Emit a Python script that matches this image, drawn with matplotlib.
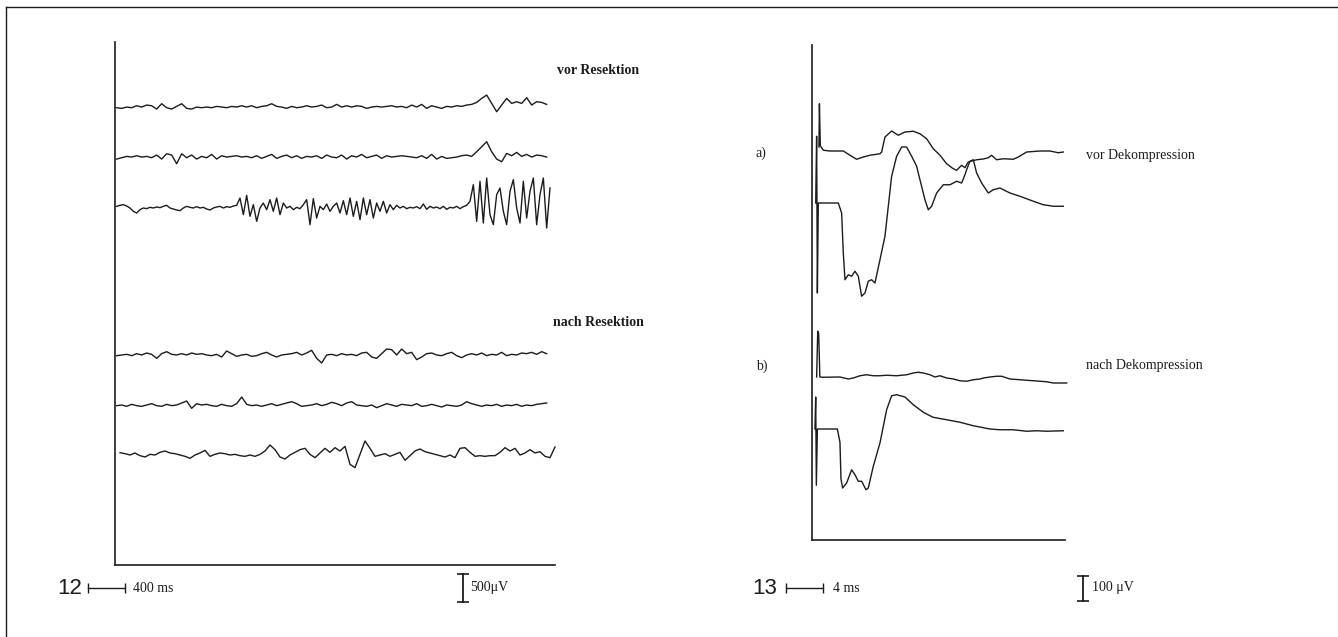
import matplotlib

matplotlib.use("Agg")

import matplotlib.pyplot as plt
import matplotlib.transforms as mtransforms
import numpy as np

W, H = 1338, 637
INK = "#1c1c1c"

# ---- Fig. 12: EEG, six channels (uV), evenly sampled between start/end (ms)
eeg_vor_1 = [-18, -30, -6, -18, 18, -6, 30, 18, -42, 54, -18, -42, 6, 54, -30, -42, -6, -18,
             -6, -18, 6, -6, -18, 6, -6, 18, -6, 18, -18, 6, 18, 54, 6, -6, -30, 6, -18, -6,
             18, -6, 6, 30, -18, -6, 42, -6, 18, -6, 18, 6, -30, -6, 6, -6, 6, 18, -6, 6, -18,
             30, -6, 42, -30, 18, -6, -30, 6, -6, 18, 6, 30, 42, 78, 150, 210, 60, -90, 30, 150,
             60, 90, 60, 162, 30, 90, 78, 42]
eeg_vor_2 = [-42, -18, 6, -6, 18, -6, 6, -18, 30, -42, 54, 30, -126, 54, -18, 30, -42, 6, -18,
             42, -42, 18, -6, 6, 18, -6, 6, -18, 18, -30, 6, 42, -30, 6, 30, -18, 18, -30, 6,
             -6, 18, -30, 30, -6, -18, 30, -42, 18, -6, 42, -18, 6, 30, -30, 18, -6, 6, 18, 6,
             -6, -18, 18, -30, 42, -42, 6, -30, -18, -6, 18, 30, 6, 90, 180, 270, 90, -42, -90,
             60, 18, 78, 6, 42, -6, 30, 18, -6]
eeg_vor_3 = [30, 48, 60, 36, 0, -60, -90, -30, 0, -12, 12, 0, 18, 6, 30, 48, 0, -18, -36, -48,
             0, 30, 12, 0, 24, 0, 12, -18, -36, 0, 18, 30, 0, 24, 12, 36, 48,
             180, -120, 228, -150, 60, -240, 0, 90, -30, 150, -60, 180, -120, 90, 0, 30, -30,
             12, -12, 60, 150, -300, 168, -180, 30, -30, 72, -60, 30, 90, -90, 132, -120, 180,
             -150, 120, -210, 180, -120, 150, -180, 90, -60, 120, -90, 60, -30, 48, 0, 30, -12,
             12, 0, 24, -12, 72, -24, 30, 0, 18, -12, 30, -24, 12, 0, 30, -12, 24, 48, 120,
             420, -240, 480, -270, 540, -120, -300, 240, 360, -60, -300, 300, 510, 0, -270, 480,
             -180, 300, 540, -300, 240, 540, -360, 360]
eeg_nach_1 = [-12, 0, 12, -12, 24, 0, 36, 12, -60, 24, 60, 12, 0, 24, 0, 36, 12, 24, 0, -12,
              12, -36, 72, 24, -24, 0, 12, -24, -12, 24, 48, 0, -36, 0, 12, 24, 48, 0, 36, 84,
              -60, -144, 0, 12, -12, 24, 0, 12, -12, 36, 48, -36, -60, 24, 108, 96, 0, 108, 24,
              48, -84, -36, 24, 36, 0, -12, 24, 48, -12, -48, 0, 24, 0, 36, -12, 12, 0, 48, -12,
              12, 0, 36, 24, 48, 12, 60, 24]
eeg_nach_2 = [-12, 0, -24, 12, -12, -24, 0, 24, -12, -24, 12, -12, 0, 36, 72, -60, 24, 0, 12,
              -12, -24, 12, -12, -24, 24, 144, 12, -12, 0, -24, 0, 24, -12, 12, 36, 60, 24, -24,
              -12, 0, 24, -12, 12, 48, 24, -12, 36, 60, 0, -12, -24, 0, -48, -12, 24, 0, -24, 12,
              0, -12, 24, -24, -12, 12, -12, -36, 0, -12, -24, 0, 60, 24, 0, -24, 0, -12, 12,
              -24, 0, -12, 12, -24, 0, -12, 12, 24, 36]
eeg_nach_3 = [42, 24, 0, 36, -12, -36, 12, 0, 48, 72, 36, 24, 0, -24, -60, 0, 36, 84, -24, 12,
              36, 24, 0, 12, -12, -24, 0, -24, 12, 72, 180, 96, -36, -72, 0, 48, 96, 120, 12,
              -48, 36, 120, 48, 132, 72, 156, -168, -228, 12, 252, 120, -24, 0, 24, -24, 12, 48,
              -96, -12, 72, 108, 60, 36, 12, -12, -36, 0, -48, 120, 132, 48, -24, -12, -24, -12,
              -12, 48, 132, 72, 120, 0, 36, 96, 36, 60, -24, -48, 144]
eeg_traces = [eeg_vor_1, eeg_vor_2, eeg_vor_3, eeg_nach_1, eeg_nach_2, eeg_nach_3]
eeg_t_start_ms = [18, 18, 18, 18, 18, 54]
eeg_t_end_ms = [4662, 4662, 4698, 4662, 4662, 4752]

# ---- Fig. 13: evoked potentials, time (ms) / amplitude (uV)
a_top_ms = [0.75, 0.80, 0.90, 1.22, 1.94, 3.38, 4.10, 4.82, 5.54, 6.26, 7.34, 7.52, 7.88, 8.60,
            9.32, 10.04, 10.94, 11.66, 12.38, 13.10, 13.82, 14.54, 15.26, 15.62, 16.16, 16.52,
            16.88, 17.24, 17.78, 18.50, 19.04, 19.40, 19.94, 20.66, 21.74, 22.28, 23.18, 24.62,
            25.70, 26.60, 27.14]
a_top_uv = [0, 173, 5, -13, -16, -16, -33, -49, -40, -33, -27, -20, 40, 64, 47, 60, 63, 53, 33,
            -7, -33, -67, -87, -93, -73, -83, -60, -56, -51, -48, -43, -33, -51, -47, -49, -40,
            -20, -16, -16, -23, -20]
a_bot_ms = [0.40, 0.50, 0.58, 0.68, 2.84, 3.20, 3.38, 3.56, 3.92, 4.28, 4.64, 5.00, 5.36, 5.72,
            6.08, 6.44, 6.80, 7.34, 7.88, 8.24, 8.60, 9.14, 9.68, 10.22, 10.76, 11.30, 11.66,
            12.20, 12.56, 12.92, 13.46, 14.18, 14.90, 15.62, 16.16, 16.52, 16.70, 17.06, 17.42,
            17.78, 18.32, 19.04, 19.58, 20.30, 21.38, 22.46, 23.90, 24.98, 26.06, 27.14]
a_bot_uv = [0, 267, -360, 0, 0, -40, -200, -307, -287, -293, -273, -293, -373, -360, -313, -307,
            -320, -227, -133, -13, 107, 187, 224, 224, 187, 147, 93, 13, -27, -13, 40, 73, 73, 87,
            80, 113, 133, 167, 173, 120, 80, 40, 53, 60, 40, 27, 7, -7, -13, -13]
b_top_ms = [0.50, 0.62, 0.72, 0.85, 1.22, 3.02, 3.92, 4.46, 5.18, 5.90, 6.62, 7.34, 8.06, 9.14,
            10.22, 10.94, 11.48, 12.02, 12.74, 13.28, 13.82, 14.54, 15.26, 15.98, 16.70, 17.42,
            18.14, 18.50, 19.22, 19.94, 20.48, 21.38, 22.46, 23.90, 25.34, 26.06, 27.50]
b_top_uv = [0, 183, 175, 0, -1, 0, -8, -4, 5, 9, 5, 5, 7, 5, 9, 16, 19, 16, 9, 0, 5, -4, -8, -15,
            -17, -11, -8, -4, 0, 3, 3, -8, -11, -15, -19, -24, -24]
b_bot_ms = [0.32, 0.40, 0.47, 0.58, 2.74, 3.02, 3.13, 3.31, 3.74, 4.28, 4.64, 5.00, 5.36, 5.83,
            6.08, 6.62, 7.34, 8.06, 8.60, 9.14, 10.04, 10.94, 12.02, 13.06, 14.54, 15.98, 17.42,
            19.22, 20.30, 21.74, 23.18, 24.26, 25.34, 27.14]
b_bot_uv = [0, 128, -225, 0, 0, -53, -200, -236, -216, -163, -183, -209, -209, -243, -236, -149,
            -56, 77, 133, 137, 128, 97, 67, 47, 37, 27, 13, 0, -3, -3, -9, -7, -9, -7]

ep_times = [a_top_ms, a_bot_ms, b_top_ms, b_bot_ms]
ep_values = [a_top_uv, a_bot_uv, b_top_uv, b_bot_uv]

SCALE_12_MS, SCALE_12_UV = 400, 500
SCALE_13_MS, SCALE_13_UV = 4, 100


def px_box(x0, y0, x1, y1):
    # pixel box (top-left origin) -> figure fraction rect
    return [x0 / W, 1 - y1 / H, (x1 - x0) / W, (y1 - y0) / H]


def ftext(fig, x, y, s, **kw):
    kw.setdefault("va", "center")
    kw.setdefault("color", INK)
    fig.text(x / W, 1 - y / H, s, **kw)


def panel_axes(fig, box):
    ax = fig.add_axes(px_box(*box))
    ax.set_xticks([])
    ax.set_yticks([])
    ax.patch.set_visible(False)
    for side in ("top", "right"):
        ax.spines[side].set_visible(False)
    for side in ("left", "bottom"):
        ax.spines[side].set_linewidth(1.2)
        ax.spines[side].set_color(INK)
    return ax


def scale_bars(ax, t0, t_len, y_h, x_v, v0, v_len):
    # horizontal time bar (data x, axes y) and vertical amplitude bar (axes x, data y)
    th = mtransforms.blended_transform_factory(ax.transData, ax.transAxes)
    ax.plot([t0, t0 + t_len], [y_h, y_h], color=INK, lw=1.0, transform=th, clip_on=False)
    ax.plot([t0, t0 + t_len], [y_h, y_h], ls="none", marker="|", ms=7, mew=1.0,
            color=INK, transform=th, clip_on=False)
    tv = mtransforms.blended_transform_factory(ax.transAxes, ax.transData)
    ax.plot([x_v, x_v], [v0, v0 + v_len], color=INK, lw=1.3, transform=tv, clip_on=False)
    ax.plot([x_v, x_v], [v0, v0 + v_len], ls="none", marker="_", ms=8, mew=1.2,
            color=INK, transform=tv, clip_on=False)


def main():
    fig = plt.figure(figsize=(W / 100, H / 100), dpi=100)

    # outer frame (top and left edge only)
    frame = fig.add_axes(px_box(6, 7, W + 5, H + 5))
    frame.set_xticks([])
    frame.set_yticks([])
    frame.patch.set_visible(False)
    for side in ("right", "bottom"):
        frame.spines[side].set_visible(False)
    for side in ("top", "left"):
        frame.spines[side].set_linewidth(1.0)
        frame.spines[side].set_color(INK)

    serif = "Liberation Serif"
    row_y = 588

    # --- Fig. 12
    ax1 = panel_axes(fig, (115, 42, 555, 565))
    ms_per_px, uv_per_px = 10.8, 18.0
    ax1.set_xlim(0, 440 * ms_per_px)
    ax1.set_ylim(0, 523 * uv_per_px)
    baselines_12 = [8249, 7349, 6426, 3780, 2880, 1980]
    for vals, t0, t1, base in zip(eeg_traces, eeg_t_start_ms, eeg_t_end_ms, baselines_12):
        t = np.linspace(t0, t1, len(vals))
        ax1.plot(t, base + np.asarray(vals, dtype=float), color=INK, lw=1.0, clip_on=False)

    scale_bars(ax1, (88 - 115) * ms_per_px, SCALE_12_MS, -(row_y - 565) / 523,
               (463 - 115) / 440, -(row_y + 14 - 565) * uv_per_px, SCALE_12_UV)

    ftext(fig, 557, 70, "vor Resektion", fontsize=10, family=serif, weight="bold")
    ftext(fig, 553, 322, "nach Resektion", fontsize=10, family=serif, weight="bold")
    ftext(fig, 57, row_y, "12", fontsize=16, family="Liberation Sans")
    ftext(fig, 133, row_y + 1, f"{SCALE_12_MS} ms", fontsize=10, family=serif)
    ftext(fig, 470, row_y, f"{SCALE_12_UV}\u03bcV", fontsize=10, family=serif)

    # --- Fig. 13
    ax2 = panel_axes(fig, (812, 45, 1065, 540))
    ms_px, uv_px = 0.108, 4.0
    ax2.set_xlim(0, 253 * ms_px)
    ax2.set_ylim(0, 495 * uv_px)
    baselines_13 = [1572, 1348, 652, 444]
    for t, vals, base in zip(ep_times, ep_values, baselines_13):
        ax2.plot(t, base + np.asarray(vals, dtype=float), color=INK, lw=1.0, clip_on=False)

    scale_bars(ax2, (786 - 812) * ms_px, SCALE_13_MS, -(row_y - 540) / 495,
               (1083 - 812) / 253, -(row_y + 13 - 540) * uv_px, SCALE_13_UV)

    ftext(fig, 756, 153, "a)", fontsize=10, family=serif)
    ftext(fig, 756, 366, "b)", fontsize=10, family=serif)
    ftext(fig, 1086, 155, "vor Dekompression", fontsize=10, family=serif)
    ftext(fig, 1086, 365, "nach Dekompression", fontsize=10, family=serif)
    ftext(fig, 752, row_y, "13", fontsize=16, family="Liberation Sans")
    ftext(fig, 833, row_y, f"{SCALE_13_MS} ms", fontsize=10, family=serif)
    ftext(fig, 1092, row_y, f"{SCALE_13_UV} \u03bcV", fontsize=10, family=serif)

    fig.savefig("out.png", dpi=100)
    plt.close(fig)


if __name__ == "__main__":
    main()
